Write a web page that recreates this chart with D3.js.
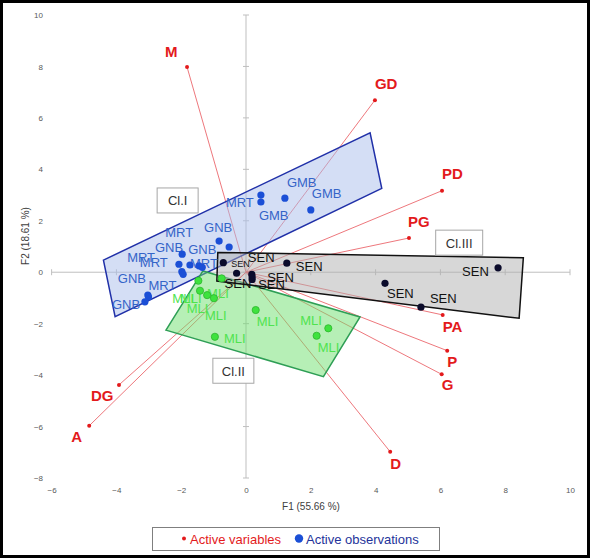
<!DOCTYPE html>
<html>
<head>
<meta charset="utf-8">
<script src="https://cdn.jsdelivr.net/npm/d3@7"></script>
<style>
  body { margin: 0; background: #fff; }
  text { font-family: "Liberation Sans", Arial, sans-serif; }
</style>
</head>
<body>
<div id="my_dataviz"></div>
<script>
// active variables (biplot coordinates)
var varNames = ["M", "GD", "PD", "PG", "PA", "P", "G", "D", "DG", "A"];
var varF1 = [-1.82, 3.98, 6.05, 5.03, 6.07, 6.21, 6.04, 4.45, -3.92, -4.84];
var varF2 = [7.98, 6.69, 3.17, 1.33, -1.66, -3.05, -3.97, -6.98, -4.38, -5.97];

// active observations
var obsLabels = ["MRT", "GMB", "GMB", "GMB", "GNB", "GNB", "MRT", "GNB", "MRT", "MRT", "MRT", "MRT", "GNB", "GNB", "MRT", "GNB",
                 "SEN", "SEN", "SEN", "SEN", "SEN", "SEN", "SEN", "SEN", "SEN",
                 "MLI", "MLI", "MLI", "MLI", "MLI", "MLI", "MLI", "MLI", "MLI"];
var obsF1 = [0.46, 0.46, 1.20, 2.00, -0.83, -0.52, -1.97, -2.07, -1.98, -1.94, -1.73, -1.45, -1.35, -3.03, -3.01, -3.12,
             -0.70, -0.29, 0.18, 0.19, 0.19, 1.26, 7.78, 4.29, 5.40,
             -1.47, -1.42, -1.20, -0.99, -0.75, 0.30, -0.96, 2.54, 2.18];
var obsF2 = [3.00, 2.73, 2.88, 2.42, 1.21, 0.98, 0.70, 0.31, 0.02, -0.08, 0.28, 0.25, 0.19, -0.89, -0.96, -1.15,
             0.37, -0.04, -0.08, -0.28, -0.19, 0.35, 0.17, -0.43, -1.36,
             -0.33, -0.72, -0.89, -1.01, -0.24, -1.47, -2.51, -2.18, -2.47];

// clusters drawn around the observations
var clusterNames = ["Cl.I", "Cl.II", "Cl.III"];
var clusterF1 = [[-4.40, 3.83, 4.19, -4.04], [-2.47, -1.33, 3.52, 2.39], [-0.87, 8.56, 8.43, -0.90]];
var clusterF2 = [[0.47, 5.42, 3.26, -1.73], [-2.25, 0.05, -1.74, -4.06], [0.77, 0.56, -1.79, -0.34]];
var clusterTagF1 = [-2.11, -0.39, 6.58];
var clusterTagF2 = [2.79, -3.83, 1.15];

var xTicks = [-6, -4, -2, 0, 2, 4, 6, 8, 10];
var yTicks = [-8, -6, -4, -2, 0, 2, 4, 6, 8, 10];

// label placement (pixels from the point), kept apart from the data
var varLabelShift = [[-22, -10], [0, -11], [0, -12], [-1, -11], [0, 17], [0, 16], [0, 16], [0, 17], [-28, 16], [-18, 16]];
var obsLabelShift = [[-35, 12], [-2, 18], [2, -11], [1, -12], [-15, -9], [-41, 7], [-17, -17], [-24, -12], [-42, -5], [-56, -12],
                     [0, 3], null, null, [-30, -12], [0, -7], [-33, 7],
                     [8, 4], [-12, 15], [-4, -12], [6, 10], [15, 5], [9, 8], [-36, 8], [2, 15], [9, -4],
                     [-26, 22], [-20, 12], [0, 3], [-9, 22], [-35, 35], [1, 16], [9, 6], [-28, -3], [1, 16]];

var dotColor = {GMB: "#1b4fd6", MRT: "#1b4fd6", GNB: "#1b4fd6", SEN: "#0b0b2b", MLI: "#3ee23e"};
var textColor = {GMB: "#3464c8", MRT: "#3464c8", GNB: "#3464c8", SEN: "#111111", MLI: "#4fe34f"};
var hullFill = ["#a9beeb", "#6ee06e", "#b0b0b0"];
var hullStroke = ["#2030a8", "#2e9e55", "#111111"];
var tagWidth = [41, 41, 47];

var width = 591, height = 560;

var svg = d3.select("#my_dataviz")
  .append("svg")
    .attr("width", width)
    .attr("height", height);

var x = d3.scaleLinear().domain([-6, 10]).range([51.6, 570]);
var y = d3.scaleLinear().domain([-8, 10]).range([478, 15]);

// tick labels
svg.append("g")
    .attr("transform", "translate(45,0)")
    .call(d3.axisLeft(y).tickValues(yTicks).tickSize(0).tickPadding(2));
svg.append("g")
    .attr("transform", "translate(0,485)")
    .call(d3.axisBottom(x).tickValues(xTicks).tickSize(0).tickPadding(2));
svg.selectAll(".domain").remove();
svg.selectAll(".tick text").attr("font-size", 8).attr("fill", "#595959")
    .style("font-family", "Liberation Sans, Arial, sans-serif");

// axis lines through the origin with cross ticks
var axisCol = "#bfbfbf";
svg.append("line")
    .attr("x1", x(0)).attr("x2", x(0)).attr("y1", y(10)).attr("y2", y(-8))
    .attr("stroke", axisCol);
svg.append("line")
    .attr("x1", x(-6)).attr("x2", x(10)).attr("y1", y(0)).attr("y2", y(0))
    .attr("stroke", axisCol);
svg.selectAll(".yt").data(yTicks).enter().append("line")
    .attr("x1", x(0) - 3).attr("x2", x(0) + 3)
    .attr("y1", function(d) { return y(d); }).attr("y2", function(d) { return y(d); })
    .attr("stroke", axisCol);
svg.selectAll(".xt").data(xTicks).enter().append("line")
    .attr("y1", y(0) - 3).attr("y2", y(0) + 3)
    .attr("x1", function(d) { return x(d); }).attr("x2", function(d) { return x(d); })
    .attr("stroke", axisCol);

// axis titles
svg.append("text")
    .attr("transform", "translate(29,236) rotate(-90)")
    .attr("text-anchor", "middle")
    .attr("font-size", 10).attr("fill", "#404040")
    .text("F2 (18.61 %)");
svg.append("text")
    .attr("x", 311).attr("y", 510)
    .attr("text-anchor", "middle")
    .attr("font-size", 10).attr("fill", "#404040")
    .text("F1 (55.66 %)");

// variable vectors from the origin
svg.selectAll(".vec").data(varNames).enter().append("line")
    .attr("x1", x(0)).attr("y1", y(0))
    .attr("x2", function(d, i) { return x(varF1[i]); })
    .attr("y2", function(d, i) { return y(varF2[i]); })
    .attr("stroke", "#e8545a")
    .attr("stroke-width", 0.8);

// cluster hulls
svg.selectAll(".hull").data(clusterNames).enter().append("polygon")
    .attr("points", function(d, i) {
      return clusterF1[i].map(function(v, j) { return x(v) + "," + y(clusterF2[i][j]); }).join(" ");
    })
    .attr("fill", function(d, i) { return hullFill[i]; })
    .attr("fill-opacity", 0.5)
    .attr("stroke", function(d, i) { return hullStroke[i]; })
    .attr("stroke-width", 1.5);

// variable points and labels
svg.selectAll(".vpt").data(varNames).enter().append("circle")
    .attr("cx", function(d, i) { return x(varF1[i]); })
    .attr("cy", function(d, i) { return y(varF2[i]); })
    .attr("r", 2)
    .attr("fill", "#e31a1c");
svg.selectAll(".vlab").data(varNames).enter().append("text")
    .attr("x", function(d, i) { return x(varF1[i]) + varLabelShift[i][0]; })
    .attr("y", function(d, i) { return y(varF2[i]) + varLabelShift[i][1]; })
    .attr("font-size", 15).attr("font-weight", "bold")
    .attr("fill", "#e31a1c")
    .text(function(d) { return d; });

// observation labels then points (some overlapping points carry no visible label)
var labelled = d3.range(obsLabels.length).filter(function(i) { return obsLabelShift[i] != null; });
svg.selectAll(".olab").data(labelled).enter().append("text")
    .attr("x", function(i) { return x(obsF1[i]) + obsLabelShift[i][0]; })
    .attr("y", function(i) { return y(obsF2[i]) + obsLabelShift[i][1]; })
    .attr("font-size", function(i) { return i == 16 ? 9 : 13; })
    .attr("fill", function(i) { return textColor[obsLabels[i]]; })
    .text(function(i) { return obsLabels[i]; });

svg.selectAll(".opt").data(obsLabels).enter().append("circle")
    .attr("cx", function(d, i) { return x(obsF1[i]); })
    .attr("cy", function(d, i) { return y(obsF2[i]); })
    .attr("r", 3.6)
    .attr("fill", function(d) { return dotColor[d]; })
    .attr("stroke", function(d) { return d == "MLI" ? "#2cb52c" : "none"; })
    .attr("stroke-width", 0.8);

// cluster tags
var tags = svg.selectAll(".tag").data(clusterNames).enter().append("g")
    .attr("transform", function(d, i) { return "translate(" + x(clusterTagF1[i]) + "," + y(clusterTagF2[i]) + ")"; });
tags.append("rect")
    .attr("x", function(d, i) { return -tagWidth[i] / 2; })
    .attr("y", -12.5)
    .attr("width", function(d, i) { return tagWidth[i]; })
    .attr("height", 25)
    .attr("fill", "#fff")
    .attr("stroke", "#a6a6a6");
tags.append("text")
    .attr("text-anchor", "middle")
    .attr("y", 5)
    .attr("font-size", 13)
    .attr("fill", "#333")
    .text(function(d) { return d; });

// legend
var legend = svg.append("g");
legend.append("rect")
    .attr("x", 152.5).attr("y", 527.5).attr("width", 287).attr("height", 23)
    .attr("fill", "#fff").attr("stroke", "#7f7f7f");
legend.append("circle").attr("cx", 184).attr("cy", 538.5).attr("r", 2).attr("fill", "#e31a1c");
legend.append("text").attr("x", 190).attr("y", 543.5)
    .attr("font-size", 13).attr("fill", "#e31a1c").text("Active variables");
legend.append("circle").attr("cx", 299).attr("cy", 538.5).attr("r", 4.2).attr("fill", "#1b4fd6");
legend.append("text").attr("x", 306).attr("y", 543.5)
    .attr("font-size", 13).attr("fill", "#24339a").text("Active observations");

// outer frame
svg.append("rect")
    .attr("x", 1.5).attr("y", 1.5).attr("width", 587).attr("height", 555)
    .attr("fill", "none").attr("stroke", "#000").attr("stroke-width", 3);
</script>
</body>
</html>
